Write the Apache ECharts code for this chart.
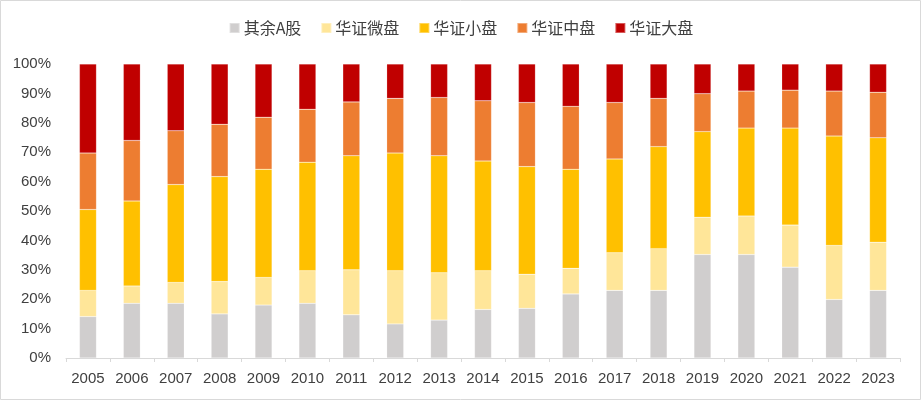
<!DOCTYPE html>
<html><head><meta charset="utf-8">
<script src="https://cdn.jsdelivr.net/npm/echarts@6/dist/echarts.min.js"></script>
<style>html,body{margin:0;padding:0;background:#fff}#c{width:922px;height:402px}</style>
</head><body><div id="c"></div>
<script>
const years = ['2005','2006','2007','2008','2009','2010','2011','2012','2013','2014','2015','2016','2017','2018','2019','2020','2021','2022','2023'];
const seriesNames = ['其余A股','华证微盘','华证小盘','华证中盘','华证大盘'];
const otherA = [14.1,18.6,18.6,15.0,18.0,18.6,14.7,11.6,12.9,16.5,16.9,21.8,23.0,23.0,35.2,35.2,30.9,19.9,23.0];
const micro  = [8.9,5.9,7.1,11.0,9.4,11.1,15.3,18.1,16.1,13.2,11.6,8.7,12.8,14.2,12.7,13.1,14.3,18.4,16.4];
const small  = [27.5,28.9,33.3,35.7,36.8,36.9,38.8,40.0,39.8,37.3,36.6,33.7,31.9,34.7,29.1,29.9,33.0,37.2,35.5];
const mid    = [19.2,20.6,18.3,17.8,17.7,18.0,18.3,18.6,19.8,20.5,21.8,21.4,19.2,16.4,12.9,12.6,12.9,15.3,15.5];
const large  = [30.3,26.0,22.7,20.5,18.1,15.4,12.9,11.7,11.4,12.5,13.1,14.4,13.1,11.7,10.1,9.2,8.9,9.2,9.6];
const yTicks = ['0%','10%','20%','30%','40%','50%','60%','70%','80%','90%','100%'];
const colors = ['#D0CECE','#FFE699','#FFC000','#ED7D31','#C00000'];
const dataSets = [otherA, micro, small, mid, large];

const chart = echarts.init(document.getElementById('c'), null, {renderer:'canvas'});
chart.setOption({
  animation:false,
  color: colors,
  textStyle:{fontFamily:'"Noto Sans CJK SC", "Liberation Sans", sans-serif'},
  graphic:[{type:'rect', shape:{x:0.5,y:0.5,width:920,height:399}, style:{fill:'none',stroke:'#D9D9D9',lineWidth:1}, silent:true}],
  legend:{
    top:15, left:'center', itemWidth:10, itemHeight:10, itemGap:19,
    icon:'rect',
    textStyle:{fontSize:16,color:'#404040',padding:[0,0,0,-1]},
    data: seriesNames
  },
  grid:{left:66, right:22, top:64, bottom:44, containLabel:false},
  xAxis:{
    type:'category', data: years,
    axisLine:{lineStyle:{color:'#D9D9D9'}},
    axisTick:{show:true, length:4, lineStyle:{color:'#D9D9D9'}},
    axisLabel:{color:'#404040', fontSize:15, margin:13, fontFamily:'"Liberation Sans", sans-serif'}
  },
  yAxis:{
    type:'value', min:0, max:100, interval:10,
    axisLine:{show:false}, axisTick:{show:false}, splitLine:{show:false},
    axisLabel:{color:'#404040', fontSize:15, margin:15, fontFamily:'"Liberation Sans", sans-serif',
      formatter:(v)=>yTicks[Math.round(v/10)]}
  },
  series: seriesNames.map((n,i)=>({
    name:n, type:'bar', stack:'total', barWidth:17, data:dataSets[i],
    itemStyle:{color:colors[i], borderColor:'rgba(255,255,255,0.35)', borderWidth:0.5}
  }))
});
</script></body></html>
